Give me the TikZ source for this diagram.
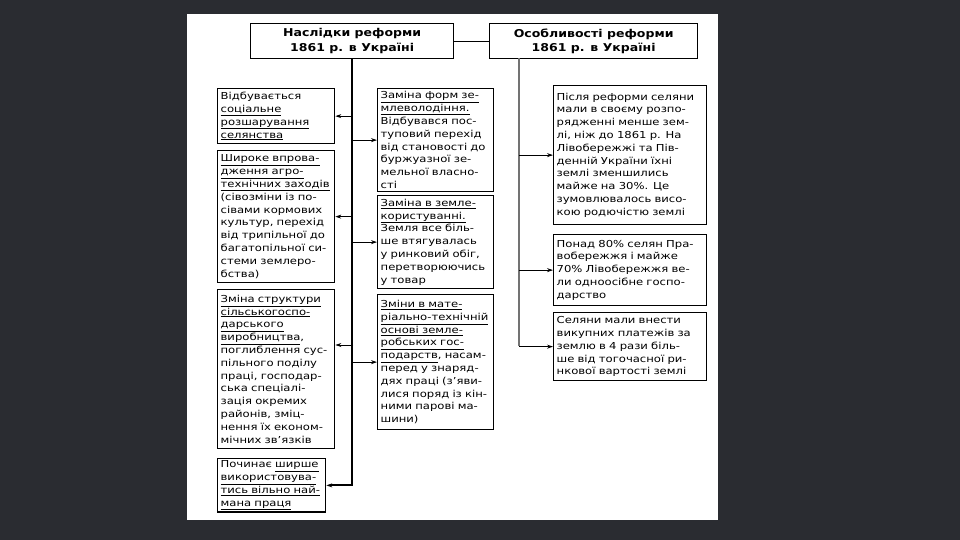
\documentclass[tikz,border=0pt]{standalone}
\usepackage{fontspec}
\setmainfont{DejaVu Sans}[FakeStretch=1.21]
\newfontfamily\headfont{DejaVu Sans}[FakeStretch=1.16]
\usetikzlibrary{arrows.meta}
\definecolor{bgdark}{RGB}{42,44,49}
\newcommand{\undl}[1]{\underline{#1}}
\tikzset{
  box/.style={draw=black, line width=1.3pt, fill=white, anchor=north west,
    inner xsep=3pt, inner ysep=2pt, align=left,
    font=\fontsize{9.6}{12.8}\selectfont},
  headbox/.style={draw=black, line width=1.3pt, fill=white, anchor=north west,
    inner sep=0pt, align=center,
    font=\headfont\bfseries\fontsize{10.8}{14.5}\selectfont},
  arr/.style={line width=0.9pt, -{Stealth[length=6pt,width=4pt]}},
  trunk/.style={line width=1.8pt},
}
\begin{document}
\begin{tikzpicture}[x=1pt,y=-1pt]
\useasboundingbox (0,0) rectangle (960,540);
\fill[bgdark] (0,0) rectangle (960,540);
\fill[white] (187,14) rectangle (718,520);

% headers
\node[headbox, minimum width=203pt, minimum height=35pt] (H1) at (250,23)
  {Наслідки реформи\\1861 р. в Україні};
\node[headbox, minimum width=208pt, minimum height=35pt] (H2) at (489,23)
  {Особливості реформи\\1861 р. в Україні};
\draw[line width=1pt] (H1.east) -- (H2.west);

% left column
\node[box, text width=111pt, minimum height=55pt] (L1) at (217,88)
  {Відбувається\\\undl{соціальне}\\\undl{розшарування}\\\undl{селянства}};
\node[box, text width=111pt, minimum height=132pt] (L2) at (217,150)
  {\undl{Широке впрова-}\\\undl{дження агро-}\\\undl{технічних заходів}\\(сівозміни із по-\\сівами кормових\\культур, перехід\\від трипільної до\\багатопільної си-\\стеми землеро-\\бства)};
\node[box, text width=111pt, minimum height=159pt] (L3) at (217,289)
  {\undl{Зміна структури}\\\undl{сільськогоспо-}\\\undl{дарського}\\\undl{виробництва},\\поглиблення сус-\\пільного поділу\\праці, господар-\\ська спеціалі-\\зація окремих\\районів, зміц-\\нення їх економ-\\мічних зв’язків};
\node[box, text width=102pt, minimum height=51pt] (L4) at (217,458)
  {Починає \undl{ширше}\\\undl{використовува-}\\\undl{тись вільно най-}\\\undl{мана праця}};

% middle column
\node[box, text width=110pt, minimum height=103pt] (M1) at (377,88)
  {\undl{Заміна форм зе-}\\\undl{млеволодіння.}\\Відбувався пос-\\туповий перехід\\від становості до\\буржуазної зе-\\мельної власно-\\сті};
\node[box, text width=110pt, minimum height=93pt] (M2) at (377,195)
  {\undl{Заміна в земле-}\\\undl{користуванні.}\\Земля все біль-\\ше втягувалась\\у ринковий обіг,\\перетворюючись\\у товар};
\node[box, text width=110pt, minimum height=135pt] (M3) at (377,294)
  {\undl{Зміни в мате-}\\\undl{ріально-технічній}\\\undl{основі земле-}\\\undl{робських гос-}\\\undl{подарств}, насам-\\перед у знаряд-\\дях праці (з’яви-\\лися поряд із кін-\\ними парові ма-\\шини)};

% right column
\node[box, text width=147pt, minimum height=139pt] (R1) at (553,85)
  {Після реформи селяни\\мали в своєму розпо-\\рядженні менше зем-\\лі, ніж до 1861 р. На\\Лівобережжі та Пів-\\денній України їхні\\землі зменшились\\майже на 30\%. Це\\зумовлювалось висо-\\кою родючістю землі};
\node[box, text width=147pt, minimum height=71pt] (R2) at (553,234)
  {Понад 80\% селян Пра-\\вобережжя і майже\\70\% Лівобережжя ве-\\ли одноосібне госпо-\\дарство};
\node[box, text width=147pt, minimum height=68pt] (R3) at (553,312)
  {Селяни мали внести\\викупних платежів за\\землю в 4 рази біль-\\ше від тогочасної ри-\\нкової вартості землі};

% left trunk
\draw[trunk, -{Stealth[length=6pt,width=4pt]}] (H1.south) |- (L4.east);
\coordinate (lt) at (H1.south);
\coordinate (lt3) at (353,345);
\draw[arr] (lt |- L1.east) -- (L1.east);
\draw[arr] (lt |- L2.east) -- (L2.east);
\draw[arr] (lt3) -- (lt3 -| L3.east);
\draw[arr] (lt |- M1.west) -- (M1.west);
\draw[arr] (lt |- M2.west) -- (M2.west);
\draw[arr] (lt |- M3.west) -- (M3.west);

% right trunk
\coordinate (rtop) at (519,58);
\coordinate (rbot) at (519,346);
\draw[trunk, draw=black!55] (rtop) -- (rbot);
\draw[arr] (rtop |- R1.west) -- (R1.west);
\draw[arr] (rtop |- R2.west) -- (R2.west);
\draw[arr] (rtop |- R3.west) -- (R3.west);
\end{tikzpicture}
\end{document}
